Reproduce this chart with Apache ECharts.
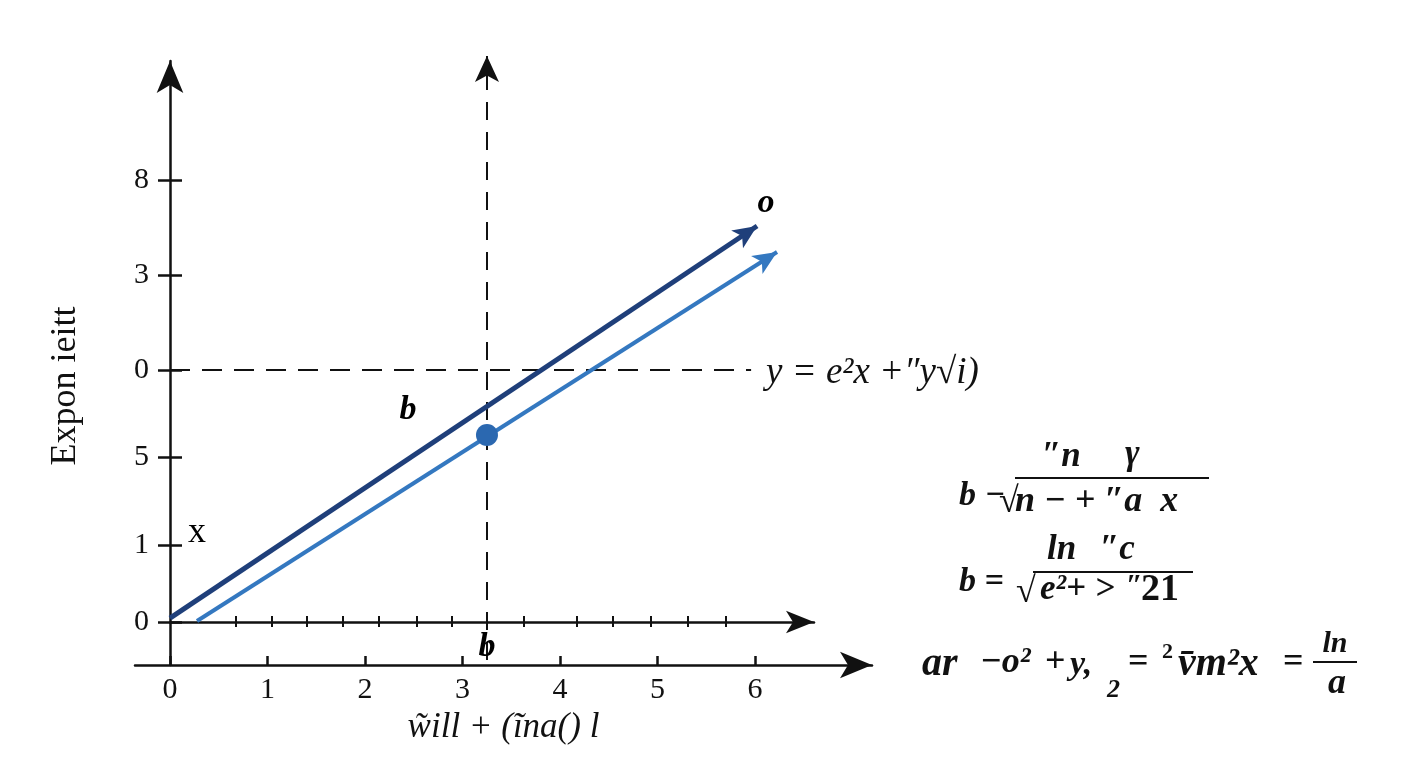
<!DOCTYPE html>
<html><head><meta charset="utf-8">
<script src="https://cdn.jsdelivr.net/npm/echarts@6/dist/echarts.min.js"></script>
<style>html,body{margin:0;padding:0;background:#fff}#c{width:1408px;height:768px}</style>
</head><body><div id="c"></div>
<script>
// ---- data ----
const xTickValues = [0, 1, 2, 3, 4, 5, 6];
const xTickLabels = ['0', '1', '2', '3', '4', '5', '6'];
const yTickValues = [0, 0.79, 1.69, 2.585, 3.56, 4.53];
const yTickLabels = ['0', '1', '5', '0', '3', '8'];
const upperTicks = [0.677, 1.046, 1.405, 1.774, 2.144, 2.533, 2.892, 3.251, 3.631, 4.174, 4.544, 4.933, 5.313, 5.703];
const darkLine = [[0, 0.04], [6.021, 4.062]];
const blueLine = [[0.277, 0.01], [6.226, 3.795]];
const guideVertical = [[3.251, -0.39], [3.251, 5.805]];
const guideHorizontal = [[0, 2.585], [5.96, 2.585]];
const pointB = [[3.251, 1.918]];
const annotations = [[6.113, 4.297, 'o'], [2.441, 2.174, 'b'], [0.277, 0.913, 'x'], [3.251, -0.256, 'b']];
const xTitle = 'w\u0303ill + (\u0129na() l';
const yTitle = 'Expon ieitt';

const SERIF = '"Liberation Serif", "DejaVu Serif", serif';
const DARK = '#1f3f7a', BLUE = '#3478c0', DOT = '#2b68b0', INK = '#111';
const yMin = -0.441, yMax = 5.754;

const chart = echarts.init(document.getElementById('c'));
const lab = (vals, labs) => v => { const i = vals.findIndex(t => Math.abs(t - v) < 1e-6); return i < 0 ? '' : labs[i]; };

const txt = (text, x, y, extra) => ({
  type: 'text', style: Object.assign({ text, x, y, font: 'italic bold 35px ' + SERIF, fill: INK, align: 'left', verticalAlign: 'middle' }, extra || {})
});
const rule = (x1, y1, x2) => ({ type: 'line', shape: { x1, y1, x2, y2: y1 }, style: { stroke: INK, lineWidth: 2 } });
const hidden = { show: false };

chart.setOption({
  animation: false,
  backgroundColor: '#fff',
  grid: [
    { left: 170, right: 536, top: 61, bottom: 103, outerBoundsMode: 'none' },
    { left: 135, right: 536, top: 61, bottom: 103, outerBoundsMode: 'none' },
    { left: 170, right: 594, top: 61, bottom: 146, outerBoundsMode: 'none' }
  ],
  xAxis: [
    { gridIndex: 0, type: 'value', min: 0, max: 7.2, show: false },
    { gridIndex: 1, type: 'value', min: -0.359, max: 7.2, position: 'bottom',
      axisLine: { onZero: false, lineStyle: { color: INK, width: 2.5 }, symbol: ['none', 'arrow'], symbolSize: [20, 32], symbolOffset: [0, 0] },
      axisTick: { show: true, inside: true, length: 9, customValues: xTickValues, lineStyle: { color: INK, width: 2.5 } },
      axisLabel: { customValues: xTickValues, formatter: lab(xTickValues, xTickLabels), fontSize: 30, fontFamily: SERIF, color: INK, margin: 10 },
      splitLine: hidden,
      name: xTitle, nameLocation: 'middle', nameGap: 40,
      nameTextStyle: { fontFamily: SERIF, fontStyle: 'italic', fontSize: 35, color: INK }
    },
    { gridIndex: 2, type: 'value', min: 0, max: 6.605, position: 'bottom',
      axisLine: { onZero: false, lineStyle: { color: INK, width: 2.5 }, symbol: ['none', 'arrow'], symbolSize: [17, 28], symbolOffset: [0, 0] },
      axisTick: { show: true, inside: true, length: 6, customValues: upperTicks, lineStyle: { color: INK, width: 2 } },
      axisLabel: hidden, splitLine: hidden },
    { gridIndex: 2, type: 'value', min: 0, max: 6.605, position: 'bottom', offset: 0,
      axisLine: { show: false, onZero: false },
      axisTick: { show: true, inside: false, length: 5, customValues: upperTicks, lineStyle: { color: INK, width: 2 } },
      axisLabel: hidden, splitLine: hidden }
  ],
  yAxis: [
    { gridIndex: 0, type: 'value', min: yMin, max: yMax, position: 'left', offset: 0,
      axisLine: { onZero: false, lineStyle: { color: INK, width: 2.5 }, symbol: ['none', 'arrow'], symbolSize: [20, 32], symbolOffset: [0, 0] },
      axisTick: { show: true, inside: false, length: 12, customValues: yTickValues, lineStyle: { color: INK, width: 2.5 } },
      axisLabel: { customValues: yTickValues, formatter: lab(yTickValues, yTickLabels), fontSize: 30, fontFamily: SERIF, color: INK, margin: 21 },
      splitLine: hidden },
    { gridIndex: 0, type: 'value', min: yMin, max: yMax, position: 'left', offset: 0,
      axisLine: { show: false, onZero: false },
      axisTick: { show: true, inside: true, length: 12, customValues: yTickValues, lineStyle: { color: INK, width: 2.5 } },
      axisLabel: hidden, splitLine: hidden },
    { gridIndex: 1, type: 'value', min: yMin, max: yMax, show: false },
    { gridIndex: 2, type: 'value', min: 0, max: 1, show: false }
  ],
  series: [
    { type: 'lines', coordinateSystem: 'cartesian2d', xAxisIndex: 0, yAxisIndex: 0, clip: false, z: 3,
      data: [{ coords: guideVertical }],
      lineStyle: { color: INK, width: 2, type: [18, 12], opacity: 1 },
      symbol: ['none', 'arrow'], symbolSize: [0, [18, 26]] },
    { type: 'lines', coordinateSystem: 'cartesian2d', xAxisIndex: 0, yAxisIndex: 0, clip: false, z: 3,
      data: [{ coords: guideHorizontal }],
      lineStyle: { color: INK, width: 2, type: [20, 12], opacity: 1 },
      symbol: ['none', 'none'] },
    { type: 'lines', coordinateSystem: 'cartesian2d', xAxisIndex: 0, yAxisIndex: 0, clip: false, z: 4,
      data: [{ coords: darkLine }],
      lineStyle: { color: DARK, width: 5, opacity: 1 },
      symbol: ['none', 'arrow'], symbolSize: [0, [16, 24]] },
    { type: 'lines', coordinateSystem: 'cartesian2d', xAxisIndex: 0, yAxisIndex: 0, clip: false, z: 4,
      data: [{ coords: blueLine }],
      lineStyle: { color: BLUE, width: 4, opacity: 1 },
      symbol: ['none', 'arrow'], symbolSize: [0, [16, 24]] },
    { type: 'scatter', xAxisIndex: 0, yAxisIndex: 0, z: 6, data: pointB, symbolSize: 22,
      itemStyle: { color: DOT, opacity: 1 }, emphasis: { disabled: true } },
    { type: 'scatter', xAxisIndex: 0, yAxisIndex: 0, z: 7, symbolSize: 1,
      data: annotations.map(a => ({ value: a, label: a[2] === 'x'
        ? { fontStyle: 'normal', fontWeight: 'normal', fontSize: 36 }
        : { fontStyle: 'italic', fontWeight: 'bold', fontSize: 34 } })),
      itemStyle: { color: 'rgba(255,255,255,0)', opacity: 1 },
      label: { show: true, position: 'inside', formatter: p => p.value[2], color: '#000', opacity: 1, fontFamily: SERIF },
      emphasis: { disabled: true } }
  ],
  graphic: [
    { type: 'text', x: 66, y: 386, rotation: Math.PI / 2,
      style: { text: yTitle, x: 0, y: 0, font: '36px ' + SERIF, fill: INK, align: 'center', verticalAlign: 'middle' } },
    txt('y = e\u00b2x +\u2033y\u221ai)', 766, 373, { font: 'italic 37px ' + SERIF }),
    txt('\u2033n', 1042, 457),
    txt('\u03b3', 1125, 455),
    txt('b \u2212', 959, 496, { font: 'italic bold 34px ' + SERIF }),
    txt('\u221a', 999, 503, { font: '36px ' + SERIF }),
    rule(1015, 478, 1209),
    txt('n \u2212 + \u2033a  x', 1015, 502, { font: 'italic bold 36px ' + SERIF }),
    txt('ln', 1047, 550),
    txt('\u2033c', 1100, 550),
    txt('b =', 959, 582, { font: 'italic bold 34px ' + SERIF }),
    txt('\u221a', 1016, 593, { font: '36px ' + SERIF }),
    rule(1033, 572, 1193),
    txt('e\u00b2+ >', 1040, 590),
    txt('\u2033', 1126, 586, { font: 'bold 30px ' + SERIF }),
    txt('21', 1141, 590, { font: 'bold 38px ' + SERIF }),
    txt('ar', 922, 665, { font: 'italic bold 40px ' + SERIF }),
    txt('\u2212o\u00b2', 980, 663, { font: 'italic bold 36px ' + SERIF }),
    txt('+', 1045, 663, { font: 'bold 36px ' + SERIF }),
    txt('y,', 1070, 665, { font: 'italic bold 34px ' + SERIF }),
    txt('2', 1107, 690, { font: 'italic bold 26px ' + SERIF }),
    txt('=', 1128, 663, { font: 'bold 36px ' + SERIF }),
    txt('2', 1162, 652, { font: 'bold 22px ' + SERIF }),
    txt('v\u0304m\u00b2x', 1178, 665, { font: 'italic bold 40px ' + SERIF }),
    txt('=', 1283, 663, { font: 'bold 36px ' + SERIF }),
    txt('ln', 1335, 644, { align: 'center', font: 'italic bold 30px ' + SERIF }),
    rule(1313, 662, 1357),
    txt('a', 1337, 684, { align: 'center', font: 'italic bold 36px ' + SERIF })
  ]
});
</script></body></html>
